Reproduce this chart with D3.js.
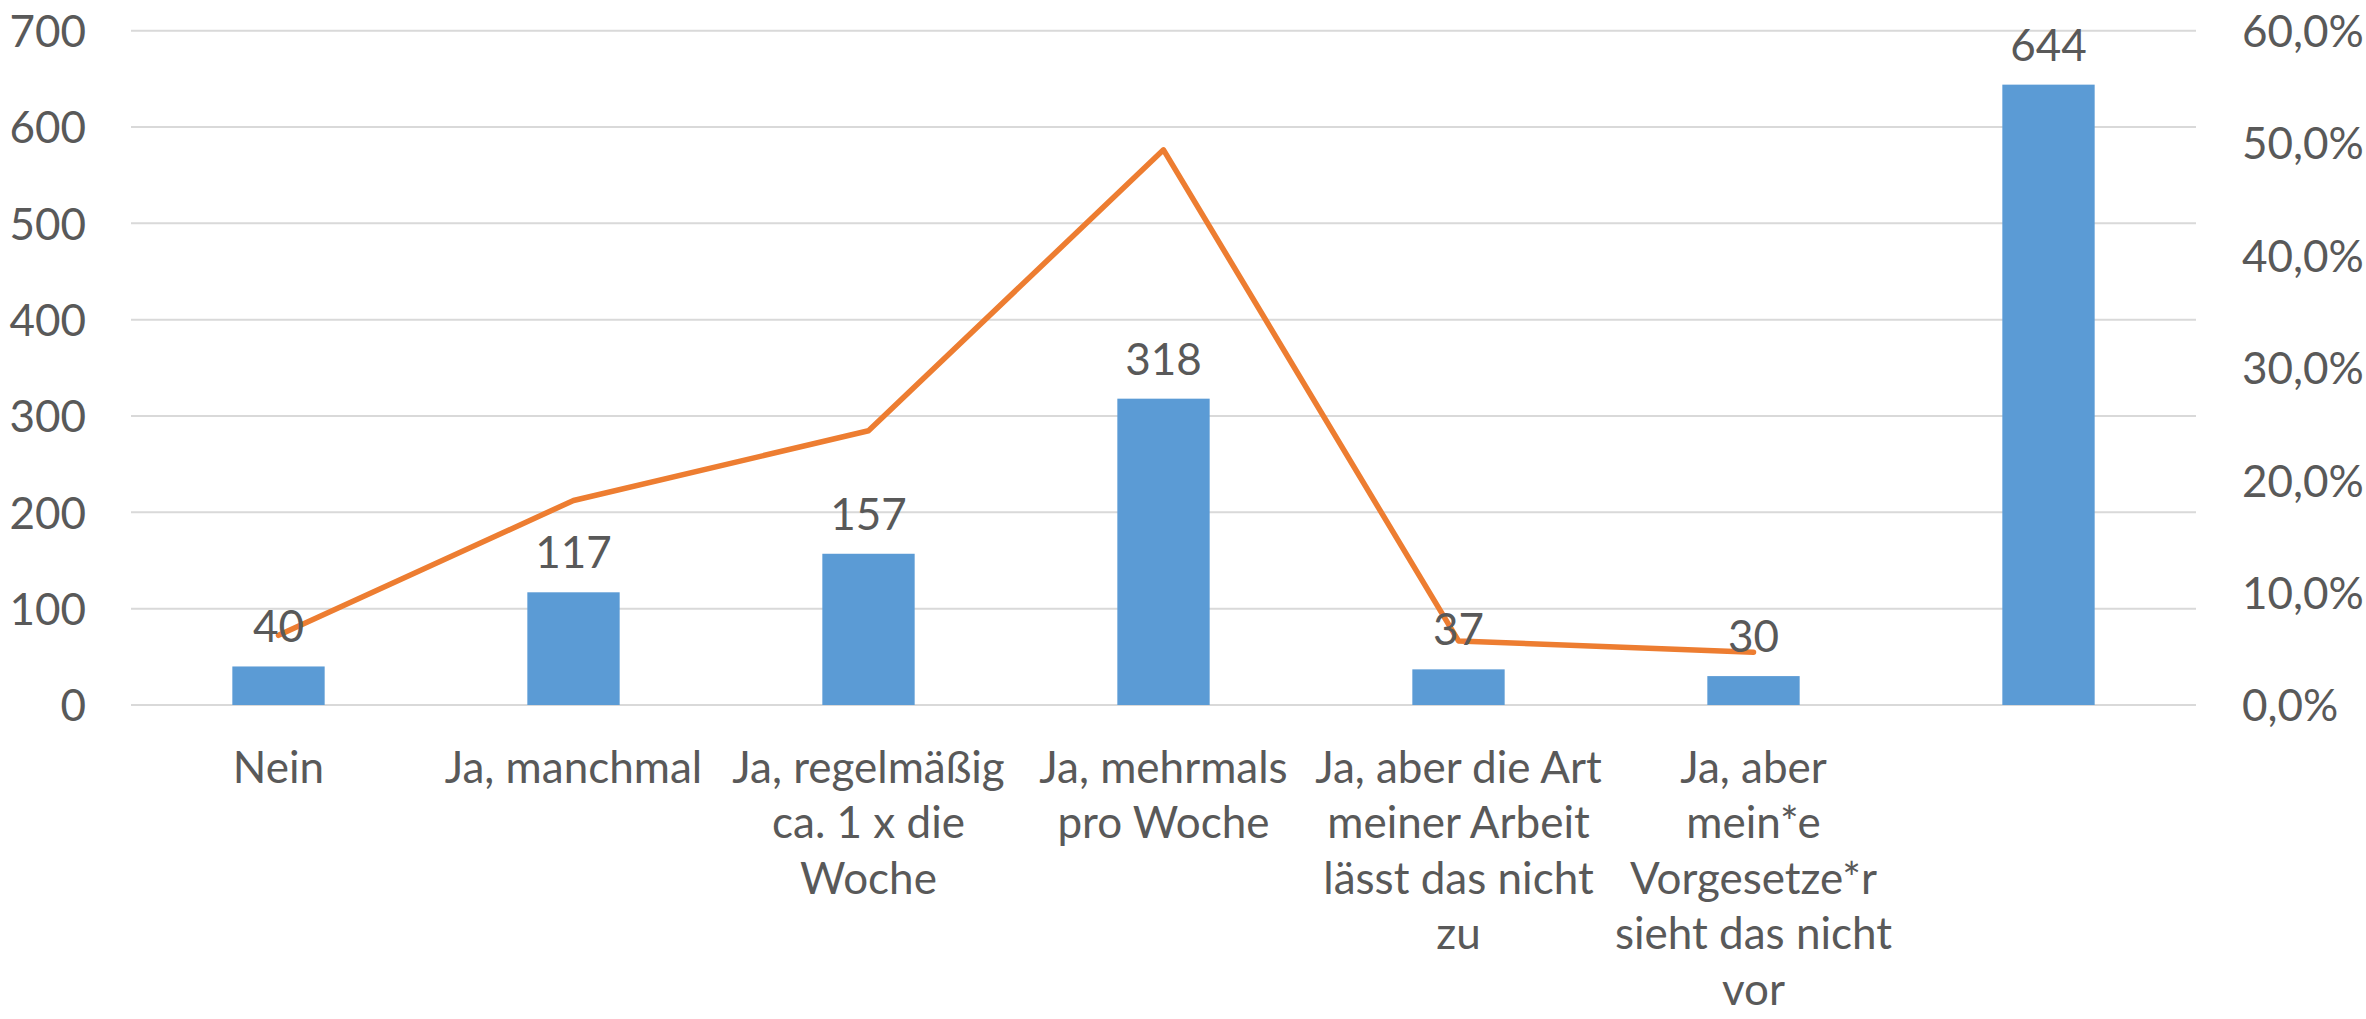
<!DOCTYPE html>
<html>
<head>
<meta charset="utf-8">
<script src="https://cdn.jsdelivr.net/npm/d3@7"></script>
<style>
  html, body { margin: 0; padding: 0; background: #fff; }
  svg { display: block; }
  text { font-family: Lato, "Open Sans", sans-serif; fill: #595959; }
</style>
</head>
<body>
<svg id="chart" width="2366" height="1019"></svg>
<script>
// Data
const categories = [
  ["Nein"],
  ["Ja, manchmal"],
  ["Ja, regelmäßig", "ca. 1 x die", "Woche"],
  ["Ja, mehrmals", "pro Woche"],
  ["Ja, aber die Art", "meiner Arbeit", "lässt das nicht", "zu"],
  ["Ja, aber", "mein*e", "Vorgesetze*r", "sieht das nicht", "vor"],
  [""]
];
const counts = [40, 117, 157, 318, 37, 30, 644];
const percents = [6.2, 18.2, 24.4, 49.4, 5.7, 4.7]; // % (line, first six categories)
const leftTicks = [0, 100, 200, 300, 400, 500, 600, 700];
const rightTicks = [0, 10, 20, 30, 40, 50, 60];

(function () {
const svg = d3.select("#chart");
const pLeft = 131, pRight = 2196, pTop = 30.7, pBottom = 705;
const fs = 44;

const x = d3.scaleBand().domain(d3.range(categories.length)).range([pLeft, pRight]).padding(0);
const y = d3.scaleLinear().domain([0, 700]).range([pBottom, pTop]);
const y2 = d3.scaleLinear().domain([0, 60]).range([pBottom, pTop]);
const barW = x.bandwidth() * 0.313;
const cx = i => x(i) + x.bandwidth() / 2;

// Gridlines
svg.append("g").selectAll("line").data(leftTicks).join("line")
  .attr("x1", pLeft).attr("x2", pRight)
  .attr("y1", d => y(d)).attr("y2", d => y(d))
  .attr("stroke", "#D9D9D9").attr("stroke-width", 2);

// Left axis
const yAxis = d3.axisLeft(y).tickValues(leftTicks).tickSize(0).tickPadding(0).tickFormat(d3.format("d"));
const gL = svg.append("g").attr("transform", `translate(86,0)`).call(yAxis);
gL.select(".domain").remove();
gL.selectAll("text").attr("font-size", fs).attr("font-family", "Lato, sans-serif").attr("fill", "#595959").attr("dy", "0.36em");

// Right axis
const fmtPct = d => d.toFixed(1).replace(".", ",") + "%";
const yAxisR = d3.axisRight(y2).tickValues(rightTicks).tickSize(0).tickPadding(0).tickFormat(fmtPct);
const gR = svg.append("g").attr("transform", `translate(2242,0)`).call(yAxisR);
gR.select(".domain").remove();
gR.selectAll("text").attr("font-size", fs).attr("font-family", "Lato, sans-serif").attr("fill", "#595959").attr("dy", "0.36em");

// Bars
svg.append("g").selectAll("rect").data(counts).join("rect")
  .attr("x", (d, i) => cx(i) - barW / 2)
  .attr("y", d => y(d))
  .attr("width", barW)
  .attr("height", d => y(0) - y(d))
  .attr("fill", "#5B9BD5");

// Line
const line = d3.line().x((d, i) => cx(i)).y(d => y2(d));
svg.append("path").datum(percents)
  .attr("d", line)
  .attr("fill", "none")
  .attr("stroke", "#ED7D31")
  .attr("stroke-width", 5.5)
  .attr("stroke-linejoin", "round")
  .attr("stroke-linecap", "round");

// Data labels
svg.append("g").selectAll("text").data(counts).join("text")
  .attr("x", (d, i) => cx(i))
  .attr("y", d => y(d) - 24)
  .attr("text-anchor", "middle")
  .attr("font-size", fs)
  .text(d => d);

// Category labels
const gC = svg.append("g");
categories.forEach((lines, i) => {
  const t = gC.append("text")
    .attr("x", cx(i))
    .attr("y", 767)
    .attr("text-anchor", "middle")
    .attr("font-size", fs);
  lines.forEach((ln, j) => {
    t.append("tspan").attr("x", cx(i)).attr("dy", j === 0 ? "0.36em" : 55.5).text(ln);
  });
});
})();
</script>
</body>
</html>
